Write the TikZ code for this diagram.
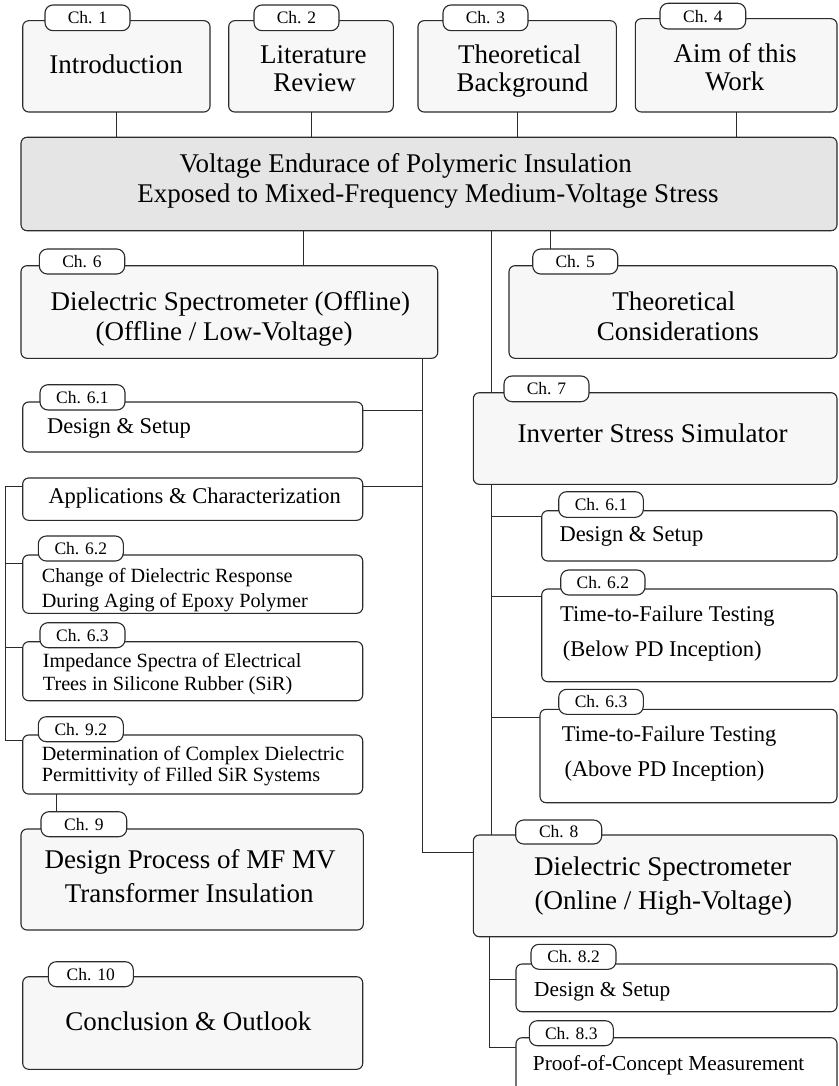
\documentclass[tikz,border=0pt]{standalone}
\usepackage{fontspec}
\setmainfont{Liberation Serif}
\usetikzlibrary{calc}
\definecolor{lnc}{HTML}{2B2B2B}
\definecolor{bigfill}{HTML}{F7F7F7}
\definecolor{mainfill}{HTML}{E5E5E5}
\newcommand{\fsz}[1]{\fontsize{#1}{#1}\selectfont}
\newcommand{\rbox}[6]{\node[#6, minimum width={(#4-#2)*1pt}, minimum height={(#5-#3)*1pt}] (#1) at ({(#2+#4)/2},{(#3+#5)/2}) {};}
\newcommand{\rtab}[6]{\node[tabbox, minimum width={(#4-#2)*1pt}, minimum height={(#5-#3)*1pt}] (#1) at ({(#2+#4)/2},{(#3+#5)/2}) {#6};}
\tikzset{
  box/.style={draw=lnc, line width=1.1pt, rounded corners=6pt, inner sep=0pt, outer sep=0pt},
  bigbox/.style={box, fill=bigfill},
  mainbox/.style={box, fill=mainfill},
  smallbox/.style={box, fill=white},
  tabbox/.style={box, fill=white, rounded corners=8pt, font=\fsz{17.5}},
  conn/.style={draw=lnc, line width=1pt},
  bt/.style={font=\fsz{27}, inner sep=0pt, anchor=base},
  mt/.style={font=\fsz{22.5}, inner sep=0pt, anchor=base west},
  st/.style={font=\fsz{20.2}, inner sep=0pt, anchor=base west},
  lt/.style={font=\fsz{21.3}, inner sep=0pt, anchor=base west}
}
\begin{document}
\begin{tikzpicture}[x=1pt,y=-1pt]
\clip (0,0) rectangle (838,1086);
\fill[white] (0,0) rectangle (838,1086);
% trunk coordinates
\coordinate (xa) at (303.5,0);
\coordinate (xb) at (550.5,0);
\coordinate (xc) at (491.5,0);
\coordinate (xd) at (422.5,0);
\coordinate (xe) at (5.5,0);
\coordinate (xf) at (56.5,0);
\coordinate (xg) at (489.5,0);
% boxes
\rbox{c1}{22.7}{20.7}{210}{112}{bigbox}
\rbox{c2}{228.7}{20.7}{393.3}{112}{bigbox}
\rbox{c3}{418}{20.7}{616.3}{112}{bigbox}
\rbox{c4}{635.3}{18.7}{837}{112}{bigbox}
\rbox{main}{21}{137.3}{837}{230.7}{mainbox}
\rbox{c6}{21}{265.7}{437.7}{358.3}{bigbox}
\rbox{c5}{509}{265.7}{837}{358.3}{bigbox}
\rbox{c61}{22.7}{402}{362.7}{452}{smallbox}
\rbox{app}{22.7}{478}{362.7}{520.3}{smallbox}
\rbox{c7}{473.3}{392.7}{837}{484.3}{bigbox}
\rbox{c71}{541.7}{510.7}{837}{561}{smallbox}
\rbox{c62}{22.7}{555}{362.7}{613.3}{smallbox}
\rbox{c72}{541.7}{589}{837}{681.7}{smallbox}
\rbox{c63}{22.7}{641.7}{362.7}{700.7}{smallbox}
\rbox{c73}{540}{709.3}{837}{802.7}{smallbox}
\rbox{c92}{22.7}{735}{362.7}{794}{smallbox}
\rbox{c9}{21}{829}{363.3}{930}{bigbox}
\rbox{c8}{473.3}{835}{837}{936.7}{bigbox}
\rbox{c82}{516}{964}{837}{1011.7}{smallbox}
\rbox{c83}{516}{1037.7}{837}{1110}{smallbox}
\rbox{c10}{22.7}{976.7}{362.7}{1069.3}{bigbox}
% tabs
\rtab{c1t}{45}{5}{130}{30.7}{Ch. 1}
\rtab{c2t}{254}{5}{339}{30.7}{Ch. 2}
\rtab{c3t}{443}{5}{528}{30.7}{Ch. 3}
\rtab{c4t}{660}{3.3}{745.7}{29}{Ch. 4}
\rtab{c6t}{39.3}{249}{124.7}{274}{Ch. 6}
\rtab{c5t}{532.7}{249}{617.7}{274}{Ch. 5}
\rtab{c61t}{40}{384.7}{125}{410}{Ch. 6.1}
\rtab{c7t}{504}{376}{589}{401.7}{Ch. 7}
\rtab{c71t}{558.7}{491.7}{643.3}{517.3}{Ch. 6.1}
\rtab{c62t}{38.3}{536}{123.3}{561}{Ch. 6.2}
\rtab{c72t}{560.7}{570}{645}{595}{Ch. 6.2}
\rtab{c63t}{40}{622.7}{125}{647.7}{Ch. 6.3}
\rtab{c73t}{558.7}{689.3}{643.3}{714.3}{Ch. 6.3}
\rtab{c92t}{38.3}{716.7}{123.3}{741.7}{Ch. 9.2}
\rtab{c9t}{41}{811.7}{126.7}{836.7}{Ch. 9}
\rtab{c8t}{515.7}{820}{601.7}{844}{Ch. 8}
\rtab{c82t}{531}{944.3}{616}{969.3}{Ch. 8.2}
\rtab{c83t}{529.3}{1020.7}{613.3}{1045.7}{Ch. 8.3}
\rtab{c10t}{48.3}{961.7}{133.3}{986.7}{Ch. 10}
% texts
\node[bt] (t1) at (116,73.3) {Introduction};
\node[bt] (t2a) at (313.3,63.3) {Literature};
\node[bt] (t2b) at (314.5,91.7) {Review};
\node[bt] (t3a) at (519.7,63.3) {Theoretical};
\node[bt] (t3b) at (522.5,91.7) {Background};
\node[bt] (t4a) at (735.2,63) {Aim of this};
\node[bt] (t4b) at (734.7,91) {Work};
\node[bt] (tma) at (405.7,172.7) {Voltage Endurace of Polymeric Insulation};
\node[bt] (tmb) at (428,202.7) {Exposed to Mixed-Frequency Medium-Voltage Stress};
\node[bt] (t6a) at (230.3,310) {Dielectric Spectrometer (Offline)};
\node[bt] (t6b) at (224.2,340) {(Offline / Low-Voltage)};
\node[bt] (t5a) at (673.8,310) {Theoretical};
\node[bt] (t5b) at (677.8,340) {Considerations};
\node[bt] (t7) at (652.5,442.7) {Inverter Stress Simulator};
\node[bt] (t8a) at (662.7,875) {Dielectric Spectrometer};
\node[bt] (t8b) at (663.3,909.3) {(Online / High-Voltage)};
\node[bt] (t9a) at (190.2,868) {Design Process of MF MV};
\node[bt] (t9b) at (189.2,902.3) {Transformer Insulation};
\node[bt] (t10) at (188.3,1030) {Conclusion \& Outlook};
\node[mt] (t61) at (47,433.3) {Design \& Setup};
\node[mt] (tapp) at (48.3,503) {Applications \& Characterization};
\node[st] (t62a) at (41.7,582.7) {Change of Dielectric Response};
\node[st] (t62b) at (41.7,607.3) {During Aging of Epoxy Polymer};
\node[st] (t63a) at (42.7,667.7) {Impedance Spectra of Electrical};
\node[st] (t63b) at (42.7,690) {Trees in Silicone Rubber (SiR)};
\node[st] (t92a) at (41.7,760.7) {Determination of Complex Dielectric};
\node[st] (t92b) at (41.7,781.7) {Permittivity of Filled SiR Systems};
\node[mt] (t71) at (559.3,541.7) {Design \& Setup};
\node[mt] (t72a) at (560,621.7) {Time-to-Failure Testing};
\node[mt] (t72b) at (562.7,656.7) {(Below PD Inception)};
\node[mt] (t73a) at (561.7,741.7) {Time-to-Failure Testing};
\node[mt] (t73b) at (564.3,776.7) {(Above PD Inception)};
\node[lt] (t82) at (534,996) {Design \& Setup};
\node[lt] (t83) at (532.7,1070) {Proof-of-Concept Measurement};
% branch points
\coordinate (b61) at ($(c61.north east)+(0,8)$);
\coordinate (bapp) at ($(app.north east)+(0,8.5)$);
\coordinate (bappl) at ($(app.north west)+(0,8.5)$);
\coordinate (b62) at ($(c62.north west)+(0,8.5)$);
\coordinate (b63) at ($(c63.north west)+(0,6)$);
\coordinate (b92) at ($(c92.north west)+(0,5.5)$);
\coordinate (b71) at ($(c71.north west)+(0,6)$);
\coordinate (b72) at ($(c72.north west)+(0,7.5)$);
\coordinate (b73) at ($(c73.north west)+(0,8.5)$);
\coordinate (b8) at ($(c8.north west)+(0,17.5)$);
\coordinate (b82) at ($(c82.north west)+(0,15.5)$);
\coordinate (b83) at ($(c83.north west)+(0,10)$);
% connectors
\draw[conn] (c1.south) -- (c1.south |- main.north);
\draw[conn] (c2.south) -- (c2.south |- main.north);
\draw[conn] (c3.south) -- (c3.south |- main.north);
\draw[conn] (c4.south) -- (c4.south |- main.north);
\draw[conn] (main.south -| xa) -- (c6.north -| xa);
\draw[conn] (main.south -| xb) -- (c5t.north -| xb);
\draw[conn] (main.south -| xc) -- (c7.north -| xc);
\draw[conn] (c7.south -| xc) -- (c8.north -| xc);
\draw[conn] (b71 -| xc) -- (b71);
\draw[conn] (b72 -| xc) -- (b72);
\draw[conn] (b73 -| xc) -- (b73);
\draw[conn] (c6.south -| xd) -- (b8 -| xd) -- (b8);
\draw[conn] (b61) -- (b61 -| xd);
\draw[conn] (bapp) -- (bapp -| xd);
\draw[conn] (bappl) -- (bappl -| xe) -- (b92 -| xe) -- (b92);
\draw[conn] (b62 -| xe) -- (b62);
\draw[conn] (b63 -| xe) -- (b63);
\draw[conn] (c92.south -| xf) -- (c9t.north -| xf);
\draw[conn] (c8.south -| xg) -- (b83 -| xg) -- (b83);
\draw[conn] (b82 -| xg) -- (b82);
\end{tikzpicture}
\end{document}
